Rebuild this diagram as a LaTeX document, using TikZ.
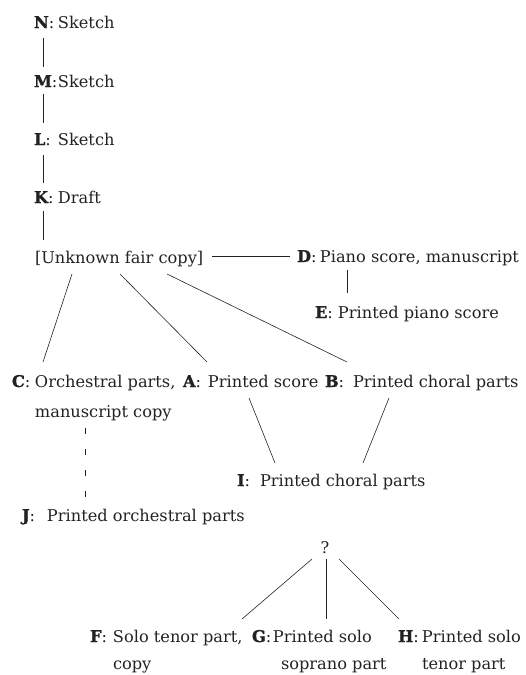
\documentclass[tikz,border=0pt]{standalone}
\usepackage{fontspec}
\setmainfont{DejaVu Serif}
\newfontfamily\lettfont[FakeBold=1.2]{DejaVu Serif Bold}
\usetikzlibrary{calc}
\definecolor{ink}{HTML}{222222}
\newcommand{\mylab}[3][23pt]{\makebox[#1][l]{{\lettfont #2}:}#3}
\newcommand{\twolines}[3][0pt]{\begin{tabular}[t]{@{}l@{}}#2\\\hspace*{#1}#3\end{tabular}}
\tikzset{
  lbl/.style={anchor=base west, inner sep=0pt, outer sep=0pt, text=ink,
    font=\fontsize{16.2}{29}\selectfont},
  conn/.style={draw=ink, line width=0.6pt},
  dconn/.style={conn, dash pattern=on 6pt off 15pt},
}
\begin{document}
\begin{tikzpicture}[x=1pt, y=-1pt]
\useasboundingbox (0,0) rectangle (526,675);
% nodes
\node[lbl] (N) at (34,28) {\mylab[24pt]{N}{Sketch}};
\node[lbl] (M) at (34,87) {\mylab[24pt]{M}{Sketch}};
\node[lbl] (L) at (34,145) {\mylab[24pt]{L}{Sketch}};
\node[lbl] (K) at (34,203) {\mylab[24pt]{K}{Draft}};
\node[lbl] (U) at (35,263) {[Unknown fair copy]};
\node[lbl] (D) at (297,262) {\mylab{D}{Piano score, manuscript}};
\node[lbl] (E) at (315,318) {\mylab{E}{Printed piano score}};
\node[lbl, font=\fontsize{16.2}{30}\selectfont] (C) at (12,387) {\mylab{C}{\twolines{Orchestral parts,}{manuscript copy}}};
\node[lbl] (A) at (183,387) {\mylab[25pt]{A}{Printed score}};
\node[lbl] (B) at (325,387) {\mylab[28pt]{B}{Printed choral parts}};
\node[lbl] (I) at (237,486) {\mylab{I}{Printed choral parts}};
\node[lbl] (J) at (22,521) {\mylab[25pt]{J}{Printed orchestral parts}};
\node[lbl, anchor=base] (Q) at (325,553) {?};
\node[lbl, font=\fontsize{16.2}{27}\selectfont] (F) at (90,642) {\mylab{F}{\twolines{Solo tenor part,}{copy}}};
\node[lbl, font=\fontsize{16.2}{27}\selectfont] (G) at (252,642) {\mylab[21pt]{G}{\twolines[8pt]{Printed solo}{soprano part}}};
\node[lbl, font=\fontsize{16.2}{27}\selectfont] (H) at (398,642) {\mylab[24pt]{H}{\twolines{Printed solo}{tenor part}}};
% connectors
\draw[conn] ($(N.base west)+(9,10)$) -- ($(M.base west)+(9,-20)$);
\draw[conn] ($(M.base west)+(9,7)$) -- ($(L.base west)+(9,-22)$);
\draw[conn] ($(L.base west)+(9,10)$) -- ($(K.base west)+(9,-20)$);
\draw[conn] ($(K.base west)+(9,8)$) -- ($(U.base west)+(8,-23)$);
\draw[conn] ($(U.base west)+(177,-7)$) -- ($(D.base west)+(-7,-6)$);
\draw[conn] ($(D.base west)+(50,8)$) -- ($(E.base west)+(32,-25)$);
\draw[conn] ($(U.base west)+(37,11)$) -- ($(C.base west)+(31,-25)$);
\draw[conn] ($(U.base west)+(85,11)$) -- ($(A.base west)+(24,-25)$);
\draw[conn] ($(U.base west)+(132,11)$) -- ($(B.base west)+(22,-25)$);
\draw[conn] ($(A.base west)+(66,11)$) -- ($(I.base west)+(38,-23)$);
\draw[conn] ($(B.base west)+(64,11)$) -- ($(I.base west)+(126,-23)$);
\draw[dconn] ($(C.base west)+(73,41)$) -- ($(J.base west)+(63,-24)$);
\draw[conn] ($(Q.base)+(-13,6)$) -- ($(F.base west)+(152,-23)$);
\draw[conn] ($(Q.base)+(1,6)$) -- ($(G.base west)+(74,-23)$);
\draw[conn] ($(Q.base)+(14,6)$) -- ($(H.base west)+(1,-23)$);
\end{tikzpicture}
\end{document}
